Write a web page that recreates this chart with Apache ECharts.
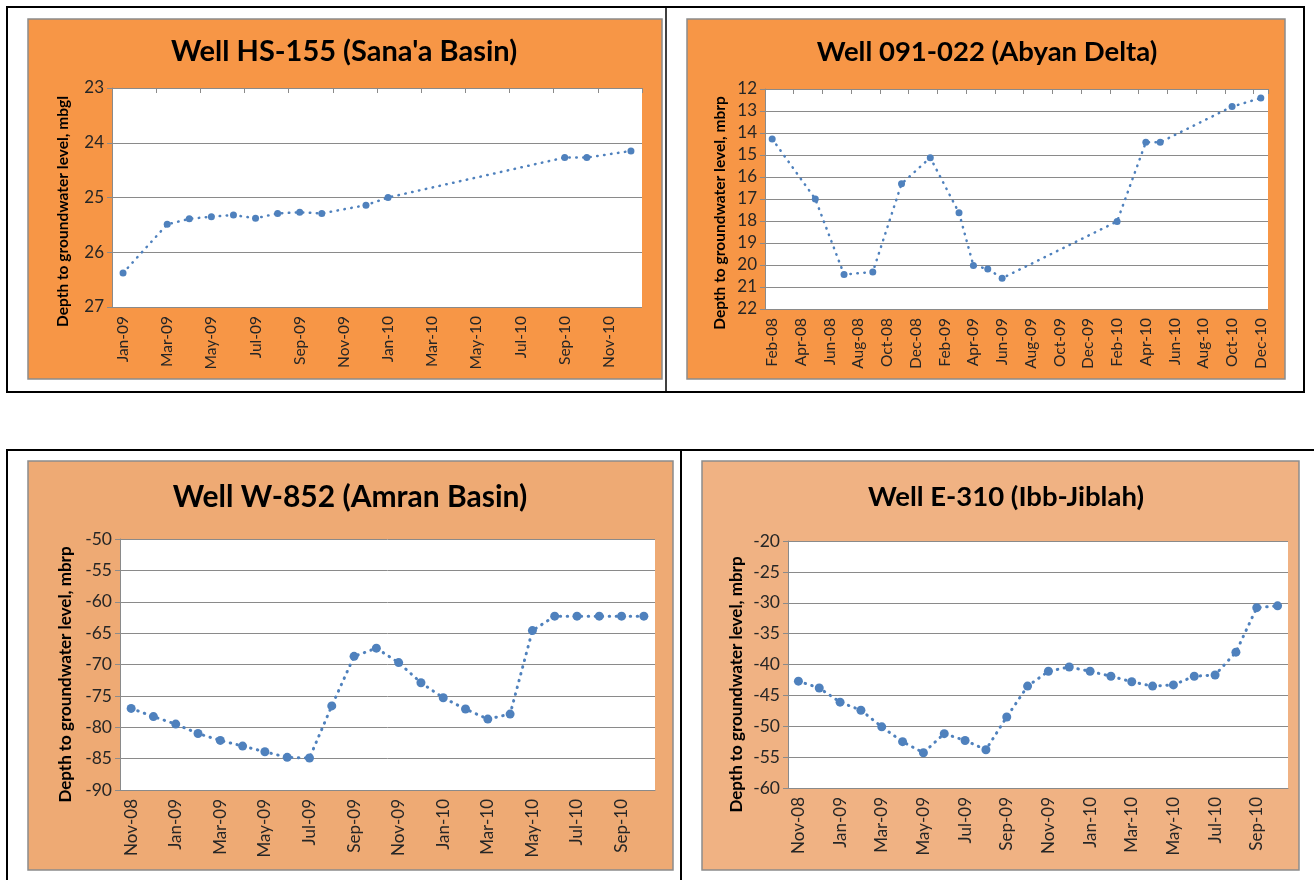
<!DOCTYPE html>
<html>
<head>
<meta charset="utf-8">
<script src="https://cdn.jsdelivr.net/npm/echarts@6/dist/echarts.min.js"></script>
<style>html,body{margin:0;padding:0;background:#fff}#c{width:1314px;height:880px}</style>
</head>
<body>
<div id="c"></div>
<script>
// ---------------- DATA ----------------
const titleHS = "Well HS-155 (Sana'a Basin)";
const titleAB = "Well 091-022 (Abyan Delta)";
const titleAM = "Well W-852 (Amran Basin)";
const titleIB = "Well E-310 (Ibb-Jiblah)";

const nameMbgl = "Depth to groundwater level, mbgl";
const nameMbrp = "Depth to groundwater level, mbrp";

const catsHS = ['Jan-09','Feb-09','Mar-09','Apr-09','May-09','Jun-09','Jul-09','Aug-09','Sep-09','Oct-09','Nov-09','Dec-09',
                'Jan-10','Feb-10','Mar-10','Apr-10','May-10','Jun-10','Jul-10','Aug-10','Sep-10','Oct-10','Nov-10','Dec-10'];
const valsHS = [26.38, null, 25.49, 25.39, 25.35, 25.32, 25.38, 25.29, 25.27, 25.29, null, 25.14,
                25.00, null, null, null, null, null, null, null, 24.27, 24.27, null, 24.15];

const catsAB = ['Feb-08','Mar-08','Apr-08','May-08','Jun-08','Jul-08','Aug-08','Sep-08','Oct-08','Nov-08','Dec-08',
                'Jan-09','Feb-09','Mar-09','Apr-09','May-09','Jun-09','Jul-09','Aug-09','Sep-09','Oct-09','Nov-09','Dec-09',
                'Jan-10','Feb-10','Mar-10','Apr-10','May-10','Jun-10','Jul-10','Aug-10','Sep-10','Oct-10','Nov-10','Dec-10'];
const valsAB = [14.27, null, null, 17.00, null, 20.43, null, 20.32, null, 16.31, null,
                15.12, null, 17.63, 20.02, 20.18, 20.60, null, null, null, null, null, null,
                null, 18.02, null, 14.42, 14.42, null, null, null, null, 12.80, null, 12.41];

const catsAM = ['Nov-08','Dec-08','Jan-09','Feb-09','Mar-09','Apr-09','May-09','Jun-09','Jul-09','Aug-09','Sep-09','Oct-09',
                'Nov-09','Dec-09','Jan-10','Feb-10','Mar-10','Apr-10','May-10','Jun-10','Jul-10','Aug-10','Sep-10','Oct-10'];
const valsAM = [-77.0, -78.3, -79.5, -81.0, -82.1, -83.0, -83.9, -84.8, -84.9, -76.6, -68.7, -67.4,
                -69.7, -72.9, -75.3, -77.1, -78.7, -77.9, -64.6, -62.3, -62.3, -62.3, -62.3, -62.3];

const catsIB = ['Nov-08','Dec-08','Jan-09','Feb-09','Mar-09','Apr-09','May-09','Jun-09','Jul-09','Aug-09','Sep-09','Oct-09',
                'Nov-09','Dec-09','Jan-10','Feb-10','Mar-10','Apr-10','May-10','Jun-10','Jul-10','Aug-10','Sep-10','Oct-10'];
const valsIB = [-42.7, -43.8, -46.1, -47.4, -50.1, -52.5, -54.3, -51.2, -52.3, -53.8, -48.5, -43.5,
                -41.1, -40.4, -41.1, -41.9, -42.8, -43.5, -43.3, -41.9, -41.7, -38.0, -30.8, -30.5];

// ---------------- LAYOUT / STYLE ----------------
const FONT = 'Lato, "Liberation Sans", sans-serif';
const BLUE = '#4F81BD';
const GRID_LINE = '#8a8a8a';
const LABEL = '#262626';

const charts = [
  { title: titleHS, tx: 344, ty: 52, tsize: 29, cats: catsHS, vals: valsHS, name: nameMbgl,
    grid: {left: 112, top: 88, width: 530, height: 219}, min: 23, max: 27, interval: 1, inverse: true,
    topTicks: true, nameGap: 41, nameShift: 28, nameSize: 15.5, ySize: 17, xSize: 15.5, sym: 7, lw: 2.5 },
  { title: titleAB, tx: 987, ty: 52, tsize: 27.5, cats: catsAB, vals: valsAB, name: nameMbrp,
    grid: {left: 765, top: 89, width: 503, height: 220}, min: 12, max: 22, interval: 1, inverse: true,
    topTicks: true, nameGap: 37, nameShift: 28, nameSize: 15.5, ySize: 17, xSize: 15.5, sym: 7, lw: 2.5 },
  { title: titleAM, tx: 350, ty: 497, tsize: 30, cats: catsAM, vals: valsAM, name: nameMbrp,
    grid: {left: 120, top: 539, width: 535, height: 251}, min: -90, max: -50, interval: 5, inverse: false,
    topTicks: false, nameGap: 46, nameShift: 20, nameSize: 17, ySize: 17.5, xSize: 17, sym: 9, lw: 3 },
  { title: titleIB, tx: 1006, ty: 497, tsize: 27.5, cats: catsIB, vals: valsIB, name: nameMbrp,
    grid: {left: 788, top: 541, width: 500, height: 247}, min: -60, max: -20, interval: 5, inverse: false,
    topTicks: false, nameGap: 43, nameShift: 40, nameSize: 17, ySize: 17.5, xSize: 17, sym: 9, lw: 3 }
];

const grid = [], xAxis = [], yAxis = [], series = [];
const graphic = [
  // table borders
  { type: 'rect', z: -10, silent: true, shape: {x: 7, y: 7, width: 1297, height: 385}, style: {fill: 'none', stroke: '#000', lineWidth: 2} },
  { type: 'line', z: -10, silent: true, shape: {x1: 666, y1: 7, x2: 666, y2: 392}, style: {stroke: '#000', lineWidth: 1.5} },
  { type: 'line', z: -10, silent: true, shape: {x1: 6, y1: 450, x2: 1314, y2: 450}, style: {stroke: '#000', lineWidth: 2} },
  { type: 'line', z: -10, silent: true, shape: {x1: 7, y1: 450, x2: 7, y2: 880}, style: {stroke: '#000', lineWidth: 2} },
  { type: 'line', z: -10, silent: true, shape: {x1: 681, y1: 450, x2: 681, y2: 880}, style: {stroke: '#000', lineWidth: 2} },
  // chart panels
  { type: 'rect', z: -9, silent: true, shape: {x: 28, y: 19, width: 634, height: 360}, style: {fill: '#F79646', stroke: '#8c8c8c', lineWidth: 1.5} },
  { type: 'rect', z: -9, silent: true, shape: {x: 687, y: 19, width: 598, height: 360}, style: {fill: '#F79646', stroke: '#8c8c8c', lineWidth: 1.5} },
  { type: 'rect', z: -9, silent: true, shape: {x: 28, y: 461, width: 645, height: 409}, style: {fill: '#EEAA74', stroke: '#8c8c8c', lineWidth: 1.5} },
  { type: 'rect', z: -9, silent: true, shape: {x: 702, y: 461, width: 597, height: 409}, style: {fill: '#F0B283', stroke: '#8c8c8c', lineWidth: 1.5} }
];

charts.forEach((c, i) => {
  grid.push(Object.assign({ show: true, backgroundColor: '#ffffff', borderWidth: 0, containLabel: false }, c.grid));

  const labelAxisIndex = xAxis.length;
  xAxis.push({
    gridIndex: i, type: 'category', data: c.cats, position: 'bottom', boundaryGap: true,
    axisLine: { show: !c.topTicks, onZero: false, lineStyle: { color: GRID_LINE } },
    axisTick: { show: false },
    axisLabel: { interval: 1, rotate: 90, margin: 9, color: LABEL, fontSize: c.xSize, fontFamily: FONT },
    splitLine: { show: false }
  });
  if (c.topTicks) {
    xAxis.push({
      gridIndex: i, type: 'category', data: c.cats, position: 'top', boundaryGap: true,
      axisLine: { show: true, onZero: false, lineStyle: { color: GRID_LINE } },
      axisTick: { show: true, inside: true, interval: 1, length: 5, lineStyle: { color: GRID_LINE } },
      axisLabel: { show: false },
      splitLine: { show: false }
    });
  }
  yAxis.push({
    gridIndex: i, type: 'value', min: c.min, max: c.max, interval: c.interval, inverse: c.inverse,
    name: c.name, nameLocation: 'middle', nameGap: c.nameGap,
    nameTextStyle: { fontSize: c.nameSize, fontWeight: 'bold', color: '#000', fontFamily: FONT, padding: [0, c.nameShift, 0, 0] },
    axisLine: { show: true, lineStyle: { color: GRID_LINE } },
    axisTick: { show: true, inside: false, length: 5, lineStyle: { color: GRID_LINE } },
    axisLabel: { margin: 8, color: LABEL, fontSize: c.ySize, fontFamily: FONT },
    splitLine: { show: true, lineStyle: { color: GRID_LINE, width: 1 } }
  });
  series.push({
    type: 'line', xAxisIndex: labelAxisIndex, yAxisIndex: i, data: c.vals, connectNulls: true,
    symbol: 'circle', symbolSize: c.sym, showAllSymbol: true,
    itemStyle: { color: BLUE },
    lineStyle: { color: BLUE, width: c.lw, type: [0.5, 6.5], cap: 'round' },
    emphasis: { disabled: true }, animation: false
  });
  graphic.push({
    type: 'text', z: 10, silent: true,
    style: { text: c.title, x: c.tx, y: c.ty, align: 'center', verticalAlign: 'middle',
             textAlign: 'center', textVerticalAlign: 'middle',
             fill: '#000', font: 'bold ' + c.tsize + 'px ' + FONT }
  });
});

const chart = echarts.init(document.getElementById('c'), null, { renderer: 'canvas' });
chart.setOption({ animation: false, backgroundColor: '#ffffff', grid, xAxis, yAxis, series, graphic });
</script>
</body>
</html>
